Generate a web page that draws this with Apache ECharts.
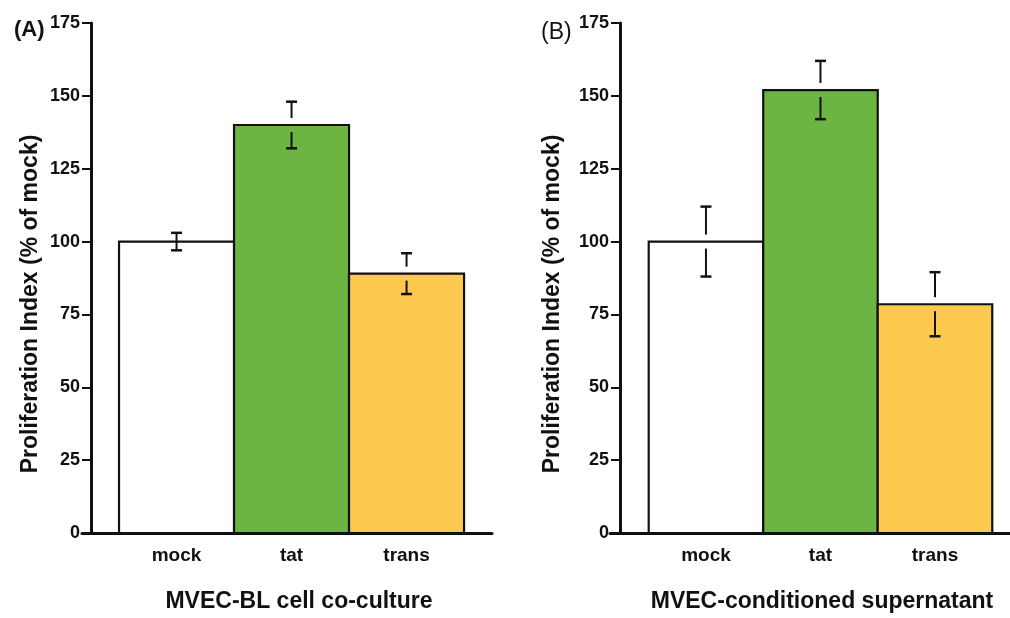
<!DOCTYPE html>
<html>
<head>
<meta charset="utf-8">
<script src="https://cdn.jsdelivr.net/npm/echarts@6/dist/echarts.min.js"></script>
<style>html,body{margin:0;padding:0;background:#fff}#c{width:1010px;height:618px}</style>
</head>
<body>
<div id="c"></div>
<script>
const categories = ['mock', 'tat', 'trans'];
const yTicks = [0, 25, 50, 75, 100, 125, 150, 175];
const valuesA = [100, 140, 89];
const errorsA = [3, 8, 7];
const valuesB = [100, 152, 78.5];
const errorsB = [12, 10, 11];
const titleA = 'MVEC-BL cell co-culture';
const titleB = 'MVEC-conditioned supernatant';
const yName = 'Proliferation Index (% of mock)';
const barColors = ['#ffffff', '#6db543', '#fec94f'];

const FONT = '"Liberation Sans", Arial, sans-serif';
const INK = '#111';

function barRender(params, api) {
  const i = api.value(0), v = api.value(1);
  const p0 = api.coord([i - 0.5, v]);
  const p1 = api.coord([i + 0.5, 0]);
  return {
    type: 'rect',
    shape: { x: p0[0], y: p0[1], width: p1[0] - p0[0], height: p1[1] - p0[1] },
    style: { fill: barColors[i], stroke: INK, lineWidth: 2.2 }
  };
}
function errRender(params, api) {
  const i = api.value(0), m = api.value(1), e = api.value(2);
  const top = api.coord([i, m + e]), mid = api.coord([i, m]), bot = api.coord([i, m - e]);
  const x = top[0], cw = 5.5;
  const gap = (mid[1] - top[1]) > 14 ? 7 : 0;
  const seg = (x1, y1, x2, y2, w) => ({ type: 'line', shape: { x1, y1, x2, y2 }, style: { stroke: INK, lineWidth: w } });
  const ch = [seg(x - cw, top[1], x + cw, top[1], 2.5), seg(x - cw, bot[1], x + cw, bot[1], 2.5)];
  ch.push(seg(x, top[1], x, mid[1] - gap, 2));
  ch.push(seg(x, mid[1] + gap, x, bot[1], 2));
  return { type: 'group', children: ch };
}

function xAxis(gridIndex, min, max, name) {
  return {
    type: 'value', gridIndex, min, max,
    splitLine: { show: false },
    axisTick: { show: false },
    axisLine: { lineStyle: { color: INK, width: 3 } },
    axisLabel: {
      customValues: [0, 1, 2],
      formatter: v => categories[Math.round(v)],
      color: INK, fontFamily: FONT, fontWeight: 'bold', fontSize: 19, margin: 13
    },
    name, nameLocation: 'middle', nameGap: 57,
    nameTextStyle: { color: INK, fontFamily: FONT, fontWeight: 'bold', fontSize: 23, padding: [0, 0, 0, 24] }
  };
}
function yAxis(gridIndex, offset, nameGap) {
  return {
    type: 'value', gridIndex, min: 0, max: 175, interval: 25, offset,
    splitLine: { show: false },
    axisLine: { show: true, onZero: false, lineStyle: { color: INK, width: 3 } },
    axisTick: { show: true, length: 9, lineStyle: { color: INK, width: 2 } },
    axisLabel: { color: INK, fontFamily: FONT, fontWeight: 'bold', fontSize: 18, margin: 11,
      customValues: yTicks },
    name: yName, nameLocation: 'middle', nameGap,
    nameTextStyle: { color: INK, fontFamily: FONT, fontWeight: 'bold', fontSize: 23, padding: [0, 52, 0, 0] }
  };
}

const chart = echarts.init(document.getElementById('c'), null, { renderer: 'canvas' });
chart.setOption({
  animation: false,
  backgroundColor: '#fff',
  title: [
    { text: '(A)', left: 9, top: 14, textStyle: { fontFamily: FONT, fontWeight: 'bold', fontSize: 22, color: INK } },
    { text: '(B)', left: 536, top: 16, textStyle: { fontFamily: FONT, fontWeight: 'normal', fontSize: 23, color: INK } }
  ],
  grid: [
    { left: 82, right: 518, top: 23, bottom: 85 },
    { left: 610, right: 0, top: 23, bottom: 85 }
  ],
  xAxis: [xAxis(0, -0.822, 2.743, titleA), xAxis(1, -0.838, 2.655, titleB)],
  yAxis: [yAxis(0, -9, 49), yAxis(1, -10, 56)],
  series: [
    { type: 'custom', xAxisIndex: 0, yAxisIndex: 0, renderItem: barRender, data: valuesA.map((v, i) => [i, v]), z: 2 },
    { type: 'custom', xAxisIndex: 0, yAxisIndex: 0, renderItem: errRender, data: valuesA.map((v, i) => [i, v, errorsA[i]]), z: 3 },
    { type: 'custom', xAxisIndex: 1, yAxisIndex: 1, renderItem: barRender, data: valuesB.map((v, i) => [i, v]), z: 2 },
    { type: 'custom', xAxisIndex: 1, yAxisIndex: 1, renderItem: errRender, data: valuesB.map((v, i) => [i, v, errorsB[i]]), z: 3 }
  ]
});
</script>
</body>
</html>
